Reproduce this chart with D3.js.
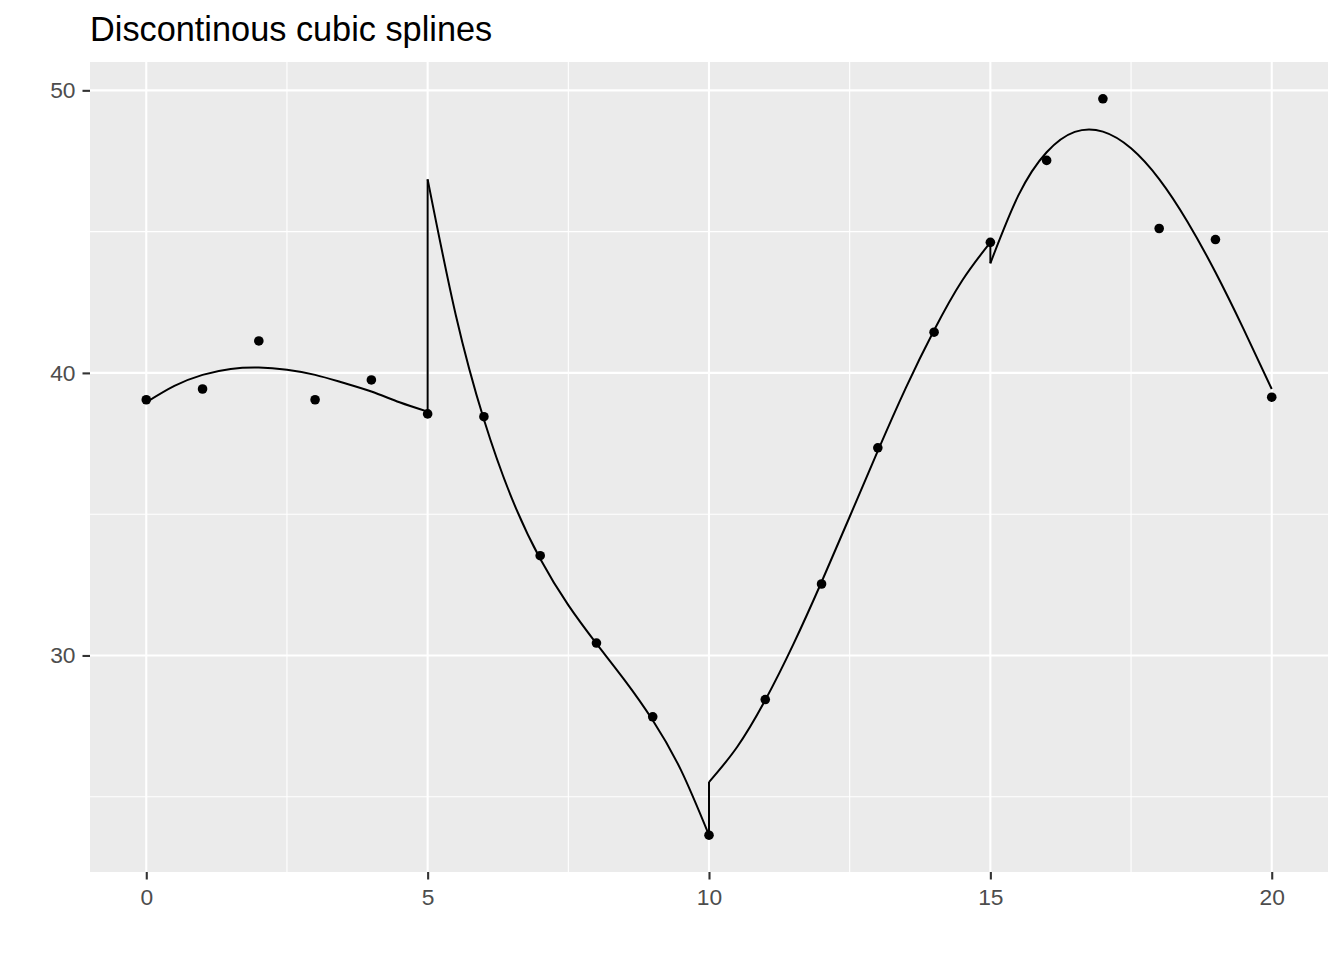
<!DOCTYPE html>
<html>
<head>
<meta charset="utf-8">
<script src="https://cdn.jsdelivr.net/npm/d3@7"></script>
<style>
  html, body { margin: 0; padding: 0; background: #ffffff; }
  svg { display: block; }
</style>
</head>
<body>
<svg id="chart" width="1344" height="960"></svg>
<script>
// ---- data ----
const title = "Discontinous cubic splines";
const pointX = [0,1,2,3,4,5,6,7,8,9,10,11,12,13,14,15,16,17,18,19,20];
const pointY = [39.05,39.43,41.13,39.05,39.75,38.55,38.45,33.53,30.44,27.83,23.64,28.44,32.53,37.35,41.44,44.62,47.52,49.70,45.11,44.72,39.14];

// fitted piecewise cubic
const seg1X = [0,0.5,1,1.5,2,2.5,3,3.5,4,4.5,5];
const seg1Y = [38.96,39.54,39.93,40.14,40.19,40.11,39.93,39.65,39.34,38.96,38.63];
const seg2X = [5,5.5,6,6.5,7,7.5,8,8.5,9,9.5,10];
const seg2Y = [46.85,42.05,38.35,35.54,33.42,31.78,30.42,29.13,27.71,25.95,23.64];
const seg3X = [10,10.5,11,11.5,12,12.5,13,13.5,14,14.5,15];
const seg3Y = [25.52,26.76,28.42,30.40,32.60,34.91,37.24,39.48,41.51,43.27,44.62];
const seg4X = [15,15.5,16,16.5,17,17.5,18,18.5,19,19.5,20];
const seg4Y = [43.88,46.29,47.81,48.53,48.54,47.95,46.86,45.36,43.56,41.55,39.43];

const xTicks = [0,5,10,15,20];
const xMinor = [2.5,7.5,12.5,17.5];
const yTicks = [30,40,50];
const yMinor = [25,35,45];

// ---- layout ----
const svg = d3.select("#chart");
const P = { left: 90, right: 1328, top: 62, bottom: 872 };

const segs = [[seg1X,seg1Y],[seg2X,seg2Y],[seg3X,seg3Y],[seg4X,seg4Y]]
  .map(([xs,ys]) => xs.map((x,i) => ({x, y: ys[i]})));
const pts = pointX.map((x,i) => ({x, y: pointY[i]}));

const allY = pointY.concat(seg1Y, seg2Y, seg3Y, seg4Y);
const yMin = d3.min(allY), yMax = d3.max(allY);
const yPad = (yMax - yMin) * 0.05;
const xMin = d3.min(pointX), xMax = d3.max(pointX);
const xPad = (xMax - xMin) * 0.05;

const x = d3.scaleLinear().domain([xMin - xPad, xMax + xPad]).range([P.left, P.right]);
const y = d3.scaleLinear().domain([yMin - yPad, yMax + yPad]).range([P.bottom, P.top]);

// panel
svg.append("rect")
  .attr("x", P.left).attr("y", P.top)
  .attr("width", P.right - P.left).attr("height", P.bottom - P.top)
  .attr("fill", "#EBEBEB");

const grid = svg.append("g");
grid.selectAll(".vminor").data(xMinor).join("line")
  .attr("x1", d => x(d)).attr("x2", d => x(d))
  .attr("y1", P.top).attr("y2", P.bottom)
  .attr("stroke", "#ffffff").attr("stroke-width", 1.1);
grid.selectAll(".hminor").data(yMinor).join("line")
  .attr("y1", d => y(d)).attr("y2", d => y(d))
  .attr("x1", P.left).attr("x2", P.right)
  .attr("stroke", "#ffffff").attr("stroke-width", 1.1);
grid.selectAll(".vmajor").data(xTicks).join("line")
  .attr("x1", d => x(d)).attr("x2", d => x(d))
  .attr("y1", P.top).attr("y2", P.bottom)
  .attr("stroke", "#ffffff").attr("stroke-width", 2.1);
grid.selectAll(".hmajor").data(yTicks).join("line")
  .attr("y1", d => y(d)).attr("y2", d => y(d))
  .attr("x1", P.left).attr("x2", P.right)
  .attr("stroke", "#ffffff").attr("stroke-width", 2.1);

// axes
const xAxis = d3.axisBottom(x).tickValues(xTicks).tickSize(7.5).tickPadding(9).tickFormat(d3.format("d"));
const yAxis = d3.axisLeft(y).tickValues(yTicks).tickSize(7.5).tickPadding(7).tickFormat(d3.format("d"));

const gx = svg.append("g").attr("transform", `translate(0,${P.bottom})`).call(xAxis);
const gy = svg.append("g").attr("transform", `translate(${P.left},0)`).call(yAxis);
[gx, gy].forEach(g => {
  g.select(".domain").remove();
  g.selectAll(".tick line").attr("stroke", "#333333").attr("stroke-width", 2.1);
  g.selectAll(".tick text")
    .attr("fill", "#4D4D4D")
    .style("font-family", "'Liberation Sans', Arial, sans-serif")
    .style("font-size", "22.8px");
});

// fitted line
const line = d3.line().x(d => x(d.x)).y(d => y(d.y)).curve(d3.curveNatural);
const straight = d3.line().x(d => x(d.x)).y(d => y(d.y));
const lineG = svg.append("g");
segs.forEach(s => {
  lineG.append("path").attr("d", line(s))
    .attr("fill", "none").attr("stroke", "#000000").attr("stroke-width", 2)
    .attr("stroke-linejoin", "round");
});
for (let i = 0; i < segs.length - 1; i++) {
  const a = segs[i][segs[i].length - 1], b = segs[i+1][0];
  lineG.append("path").attr("d", straight([a, b]))
    .attr("fill", "none").attr("stroke", "#000000").attr("stroke-width", 2);
}

// points
svg.append("g").selectAll("circle").data(pts).join("circle")
  .attr("cx", d => x(d.x)).attr("cy", d => y(d.y))
  .attr("r", 4.8).attr("fill", "#000000");

// title
svg.append("text")
  .attr("x", 90).attr("y", 41)
  .style("font-family", "'Liberation Sans', Arial, sans-serif")
  .style("font-size", "34.3px")
  .attr("fill", "#000000")
  .text(title);
</script>
</body>
</html>
